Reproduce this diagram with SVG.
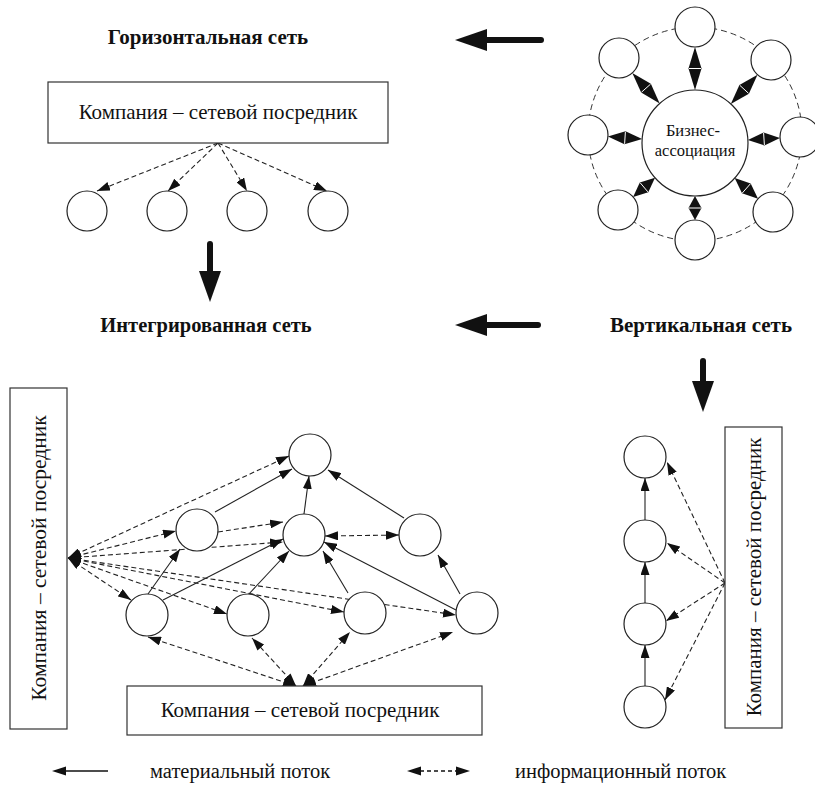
<svg xmlns="http://www.w3.org/2000/svg" width="815" height="787" viewBox="0 0 815 787">
<style>
.bg{fill:#fff}
text{fill:#111}
.title{font-weight:bold;text-anchor:middle}
.mid{text-anchor:middle}
.node{fill:#fff;stroke:#222;stroke-width:1.2}
.box{fill:#fff;stroke:#333;stroke-width:1.2}
.sol{fill:none;stroke:#222;stroke-width:1.1;marker-end:url(#ah)}
.dsh{fill:none;stroke:#222;stroke-width:1.1;stroke-dasharray:5 3;marker-end:url(#ah)}
.dbl{fill:none;stroke:#222;stroke-width:1.1;stroke-dasharray:5 3;marker-start:url(#ah);marker-end:url(#ah)}
.ring{fill:none;stroke:#333;stroke-width:1;stroke-dasharray:6 4}
.dia{fill:#111}
.gap{stroke:#fff;stroke-width:1}
.thick{stroke:#111;stroke-width:6;stroke-linecap:round}
</style>
<defs>
<marker id="ah" viewBox="0 0 13 9" refX="13" refY="4.5" markerWidth="13" markerHeight="9" markerUnits="userSpaceOnUse" orient="auto-start-reverse"><path d="M0,0 L13,4.5 L0,9 z" fill="#111"/></marker>
</defs>
<rect class="bg" x="0" y="0" width="815" height="787"/>

<g id="titles">
<text class="title" x="208" y="44" font-family="Liberation Serif" font-size="21">Горизонтальная сеть</text>
<text class="title" x="206" y="332" font-family="Liberation Serif" font-size="20.5">Интегрированная сеть</text>
<text class="title" x="701" y="332" font-family="Liberation Serif" font-size="21">Вертикальная сеть</text>
</g>

<g id="big-arrows">
<line class="thick" x1="541" y1="40" x2="482" y2="40"/>
<polygon points="455,40 487,29 487,51" fill="#111"/>
<line class="thick" x1="538" y1="325" x2="482" y2="325"/>
<polygon points="455,325 487,314 487,336" fill="#111"/>
<line class="thick" x1="210" y1="244" x2="210" y2="276"/>
<polygon points="210,302 199,271 221,271" fill="#111"/>
<line class="thick" x1="703" y1="361" x2="703" y2="386"/>
<polygon points="703,412 692,381 714,381" fill="#111"/>
</g>

<g id="horiz-connectors">
<line class="dsh" x1="218" y1="143" x2="97" y2="191"/>
<line class="dsh" x1="218" y1="143" x2="168" y2="191"/>
<line class="dsh" x1="218" y1="143" x2="247" y2="191"/>
<line class="dsh" x1="218" y1="143" x2="327" y2="191"/>
</g>
<g id="h-box"><rect class="box" x="48" y="82" width="340" height="61"/><text class="mid" x="218" y="119" font-family="Liberation Serif" font-size="21">Компания – сетевой посредник</text></g>
<g id="h-n1"><circle class="node" cx="87" cy="211" r="20"/></g>
<g id="h-n2"><circle class="node" cx="167" cy="211" r="20"/></g>
<g id="h-n3"><circle class="node" cx="247" cy="211" r="20"/></g>
<g id="h-n4"><circle class="node" cx="328" cy="211" r="20"/></g>

<circle class="ring" cx="695" cy="134" r="107"/>
<g id="ba-center"><circle class="node" cx="695" cy="143" r="53"/>
<text class="mid" x="693" y="136" font-family="Liberation Serif" font-size="16.5">Бизнес-</text>
<text class="mid" x="695" y="156" font-family="Liberation Serif" font-size="16.5">ассоциация</text></g>
<g id="ba-o1"><circle class="node" cx="695" cy="27" r="20"/></g>
<g id="ba-o2"><circle class="node" cx="771" cy="60" r="20"/></g>
<g id="ba-o3"><circle class="node" cx="800" cy="137" r="20"/></g>
<g id="ba-o4"><circle class="node" cx="773" cy="212" r="20"/></g>
<g id="ba-o5"><circle class="node" cx="695" cy="240" r="20"/></g>
<g id="ba-o6"><circle class="node" cx="618" cy="210" r="20"/></g>
<g id="ba-o7"><circle class="node" cx="588" cy="135" r="20"/></g>
<g id="ba-o8"><circle class="node" cx="619" cy="58" r="20"/></g>
<g id="ba-connectors">
<polygon class="dia" points="695,90 701.5,68.5 695,47 688.5,68.5"/><line class="gap" x1="701" y1="68.5" x2="689" y2="68.5"/>
<polygon class="dia" points="730.8,103.9 748.9,93.7 757.5,74.75 739.4,84.9"/><line class="gap" x1="748.5" y1="93.3" x2="739.8" y2="85.3"/>
<polygon class="dia" points="747.9,140 764.4,145.5 780,138.1 763.6,132.6"/><line class="gap" x1="764.4" y1="145" x2="763.6" y2="133"/>
<polygon class="dia" points="734.7,178.1 742,193.3 758,198.75 750.7,183.5"/><line class="gap" x1="742.3" y1="193" x2="750.4" y2="183.8"/>
<polygon class="dia" points="695,196 688.5,208 695,220 701.5,208"/><line class="gap" x1="689" y1="208" x2="701" y2="208"/>
<polygon class="dia" points="655,177.8 639.8,182.45 633.1,196.9 648.3,192.25"/><line class="gap" x1="640.2" y1="182.8" x2="647.9" y2="191.9"/>
<polygon class="dia" points="642.15,139.05 625.5,131.3 607.9,136.5 624.5,144.3"/><line class="gap" x1="625.4" y1="131.8" x2="624.6" y2="143.8"/>
<polygon class="dia" points="659.7,103.5 650.85,83.87 632.3,72.9 641.15,92.53"/><line class="gap" x1="650.5" y1="84.2" x2="641.5" y2="92.2"/>
</g>

<g id="int-connectors">
<line class="dbl" x1="68" y1="558" x2="289" y2="456"/>
<line class="dbl" x1="68" y1="558" x2="176" y2="531"/>
<line class="dbl" x1="68" y1="558" x2="283" y2="542"/>
<line class="dbl" x1="68" y1="558" x2="456" y2="615"/>
<line class="dbl" x1="68" y1="558" x2="344" y2="612"/>
<line class="dbl" x1="68" y1="558" x2="227" y2="614"/>
<line class="dbl" x1="68" y1="558" x2="131" y2="600"/>
<line class="dbl" x1="296" y1="686" x2="148" y2="637"/>
<line class="dbl" x1="296" y1="686" x2="252" y2="638"/>
<line class="dbl" x1="303" y1="686" x2="350" y2="632"/>
<line class="dbl" x1="303" y1="686" x2="453" y2="632"/>
<line class="dsh" x1="218" y1="532" x2="283" y2="522"/>
<line class="dbl" x1="325" y1="536" x2="399" y2="535"/>
<line class="sol" x1="215" y1="512" x2="292" y2="469"/>
<line class="sol" x1="304" y1="514" x2="309" y2="476"/>
<line class="sol" x1="404" y1="518" x2="328" y2="470"/>
<line class="sol" x1="148" y1="594" x2="180" y2="549"/>
<line class="sol" x1="163" y1="600" x2="283" y2="539"/>
<line class="sol" x1="248" y1="595" x2="289" y2="551"/>
<line class="sol" x1="348" y1="593" x2="323" y2="551"/>
<line class="sol" x1="456" y1="610" x2="324" y2="542"/>
<line class="sol" x1="460" y1="594" x2="438" y2="555"/>
</g>
<g id="int-left-box"><rect class="box" x="10" y="388" width="57" height="341"/>
<text class="mid" transform="translate(46 558) rotate(-90)" x="0" y="0" font-family="Liberation Serif" font-size="21.5">Компания – сетевой посредник</text></g>
<g id="int-bottom-box"><rect class="box" x="127" y="686" width="355" height="49"/>
<text class="mid" x="300" y="717" font-family="Liberation Serif" font-size="21">Компания – сетевой посредник</text></g>
<g id="int-T"><circle class="node" cx="310" cy="455" r="21"/></g>
<g id="int-L"><circle class="node" cx="197" cy="530" r="21"/></g>
<g id="int-M"><circle class="node" cx="304" cy="535" r="21"/></g>
<g id="int-R"><circle class="node" cx="420" cy="535" r="21"/></g>
<g id="int-BL"><circle class="node" cx="147" cy="615" r="21"/></g>
<g id="int-B2"><circle class="node" cx="248" cy="615" r="21"/></g>
<g id="int-B3"><circle class="node" cx="365" cy="613" r="21"/></g>
<g id="int-BR"><circle class="node" cx="477" cy="613" r="21"/></g>

<g id="vert-connectors">
<line class="dsh" x1="725" y1="583" x2="667" y2="462"/>
<line class="dsh" x1="725" y1="583" x2="667" y2="543"/>
<line class="dsh" x1="725" y1="583" x2="666" y2="621"/>
<line class="dsh" x1="725" y1="583" x2="665" y2="700"/>
<line class="sol" x1="645" y1="686" x2="645" y2="645"/>
<line class="sol" x1="645" y1="603" x2="645" y2="562"/>
<line class="sol" x1="645" y1="520" x2="645" y2="478"/>
</g>
<g id="v-box"><rect class="box" x="725" y="427" width="57" height="301"/>
<text class="mid" transform="translate(761 577) rotate(-90)" x="0" y="0" font-family="Liberation Serif" font-size="21">Компания – сетевой посредник</text></g>
<g id="v-n1"><circle class="node" cx="645" cy="457" r="21"/></g>
<g id="v-n2"><circle class="node" cx="645" cy="541" r="21"/></g>
<g id="v-n3"><circle class="node" cx="645" cy="624" r="21"/></g>
<g id="v-n4"><circle class="node" cx="645" cy="707" r="21"/></g>

<g id="legend">
<line x1="108" y1="771" x2="62" y2="771" stroke="#111" stroke-width="1.4"/>
<polygon points="52,771 66,766.5 66,775.5" fill="#111"/>
<text x="150" y="778" font-family="Liberation Serif" font-size="20.5">материальный поток</text>
<line x1="420" y1="771" x2="456" y2="771" stroke="#111" stroke-width="1.4" stroke-dasharray="4 3"/>
<polygon points="407,771 421,766.5 421,775.5" fill="#111"/>
<polygon points="470,771 456,766.5 456,775.5" fill="#111"/>
<text x="515" y="778" font-family="Liberation Serif" font-size="20.5">информационный поток</text>
</g>
</svg>
